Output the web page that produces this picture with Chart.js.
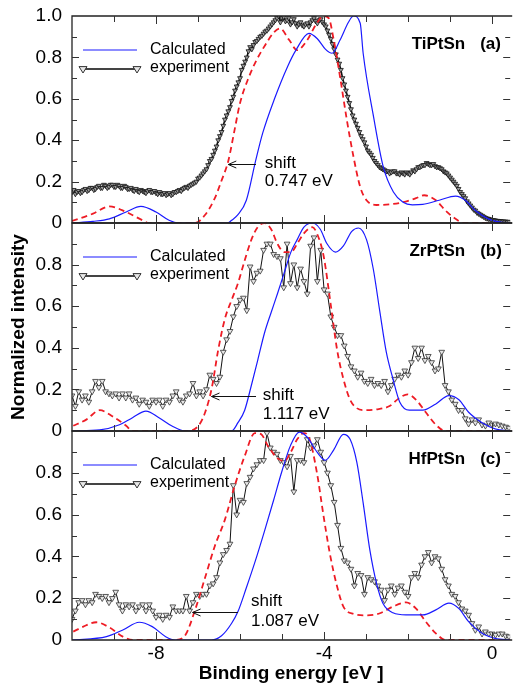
<!DOCTYPE html>
<html><head><meta charset="utf-8">
<script src="https://cdn.jsdelivr.net/npm/chart.js@4.4.1/dist/chart.umd.min.js"></script>
<style>
html,body{margin:0;padding:0;background:#fff;width:515px;height:689px;overflow:hidden}
canvas{position:absolute;left:0;top:0}
</style></head><body>
<canvas id="ca" width="515" height="689"></canvas>
<canvas id="cb" width="515" height="689"></canvas>
<canvas id="cc" width="515" height="689"></canvas>
<script>
const FONT = '"Liberation Sans", Arial, Helvetica, sans-serif';
const X_MIN = -10, X_MAX = 0.43;
const xTickVals = [-10,-9,-8,-7,-6,-5,-4,-3,-2,-1,0];
const xLabelVals = [-8,-4,0];
const yTickVals = [0,0.1,0.2,0.3,0.4,0.5,0.6,0.7,0.8,0.9,1.0];

// experiment grids (binding energy, eV)
const expStart = -10;
const expA_step = 0.04, expB_step = 0.08, expC_step = 0.08;

// ---- (a) TiPtSn ----
const blueA_E = [-10,-9.5,-9.11,-8.71,-8.36,-8.0,-7.69,-7.46,-6.3,-6.2,-6.05,-5.85,-5.63,-5.46,-5.18,-4.87,-4.67,-4.36,-4.16,-3.97,-3.81,-3.62,-3.42,-3.3,-3.14,-3.07,-2.82,-2.59,-2.35,-2.12,-1.9,-1.65,-1.26,-0.87,-0.64,-0.4,-0.09,0.23,0.45];
const blueA_I = [0,0.008,0.02,0.053,0.08,0.053,0.013,0,0,0.013,0.04,0.11,0.3,0.435,0.6,0.755,0.835,0.916,0.89,0.84,0.82,0.884,0.97,1.0,0.965,0.82,0.51,0.27,0.15,0.1,0.088,0.09,0.11,0.13,0.11,0.06,0.02,0.003,0];
const redA_E = [-10,-9.5,-9.11,-8.71,-8.32,-8.17,-7.07,-6.83,-6.6,-6.45,-6.28,-6.13,-6.0,-5.8,-5.6,-5.4,-5.2,-5.05,-4.83,-4.64,-4.4,-4.2,-4.01,-3.89,-3.77,-3.62,-3.46,-3.3,-3.14,-2.99,-2.75,-2.44,-2.13,-1.81,-1.62,-1.34,-1.11,-0.87,-0.67,0.45];
const redA_I = [0.01,0.045,0.08,0.053,0.013,0,0,0.04,0.12,0.2,0.3,0.45,0.58,0.7,0.79,0.86,0.92,0.94,0.884,0.835,0.884,0.956,1.0,0.99,0.884,0.706,0.5,0.32,0.174,0.11,0.087,0.09,0.1,0.12,0.134,0.11,0.06,0.02,0,0];
const expA = [
0.15,0.16,0.14,0.15,0.155,0.145,0.15,0.16,0.165,0.155,0.16,0.17,0.17,0.16,0.165,0.175,0.18,0.17,0.17,0.185,
0.18,0.17,0.175,0.185,0.185,0.175,0.175,0.185,0.18,0.17,0.17,0.18,0.175,0.165,0.165,0.17,0.16,0.155,0.165,0.155,
0.15,0.16,0.155,0.15,0.145,0.155,0.16,0.15,0.15,0.155,0.145,0.14,0.15,0.14,0.14,0.145,0.135,0.14,0.145,0.135,
0.14,0.15,0.15,0.155,0.16,0.155,0.165,0.17,0.175,0.17,0.18,0.185,0.19,0.195,0.2,0.215,0.22,0.23,0.24,0.25,
0.26,0.28,0.3,0.31,0.33,0.35,0.37,0.4,0.42,0.44,0.47,0.5,0.52,0.54,0.56,0.59,0.61,0.64,0.66,0.68,
0.7,0.74,0.76,0.78,0.8,0.83,0.85,0.84,0.86,0.875,0.88,0.89,0.9,0.905,0.915,0.925,0.93,0.94,0.95,0.96,
0.97,0.98,0.99,1.0,0.97,0.99,0.995,0.975,0.98,0.99,0.96,0.97,0.985,0.965,0.95,0.96,0.97,0.955,0.95,0.96,
0.965,0.95,0.97,0.98,0.99,0.975,0.965,0.98,0.985,0.97,0.96,0.95,0.93,0.91,0.89,0.865,0.84,0.815,0.79,0.77,
0.74,0.7,0.67,0.64,0.61,0.58,0.55,0.52,0.5,0.48,0.46,0.44,0.42,0.405,0.39,0.37,0.35,0.34,0.33,0.315,
0.3,0.29,0.28,0.27,0.265,0.26,0.255,0.25,0.25,0.24,0.245,0.25,0.25,0.24,0.24,0.235,0.245,0.24,0.235,0.245,
0.24,0.235,0.245,0.255,0.25,0.26,0.27,0.27,0.275,0.28,0.28,0.29,0.285,0.28,0.28,0.285,0.275,0.27,0.27,0.265,
0.26,0.25,0.245,0.24,0.23,0.22,0.21,0.2,0.19,0.18,0.165,0.15,0.14,0.13,0.12,0.105,0.095,0.085,0.075,0.065,
0.06,0.05,0.045,0.04,0.035,0.03,0.025,0.022,0.02,0.017,0.015,0.014,0.012,0.011,0.01,0.009,0.008,0.008,0.007,0.006,
0.006];

// ---- (b) ZrPtSn ----
const blueB_E = [-9.97,-9.34,-8.87,-8.56,-8.24,-7.93,-7.62,-7.3,-6.2,-6.05,-5.89,-5.73,-5.58,-5.42,-5.26,-5.11,-4.95,-4.79,-4.64,-4.48,-4.28,-4.09,-3.93,-3.73,-3.54,-3.34,-3.18,-2.99,-2.83,-2.67,-2.52,-2.36,-2.2,-1.97,-1.65,-1.34,-1.03,-0.79,-0.56,-0.24,0.07,0.45];
const blueB_I = [0,0.005,0.03,0.064,0.096,0.064,0.024,0,0,0.04,0.1,0.22,0.34,0.47,0.57,0.66,0.76,0.86,0.92,0.98,1.0,0.97,0.9,0.86,0.89,0.96,0.976,0.92,0.78,0.57,0.38,0.25,0.14,0.1,0.1,0.13,0.17,0.15,0.09,0.04,0.01,0];
const redB_E = [-9.97,-9.65,-9.34,-9.03,-8.71,-8.56,-7.3,-6.99,-6.83,-6.67,-6.52,-6.36,-6.2,-6.05,-5.89,-5.73,-5.58,-5.42,-5.26,-5.11,-4.95,-4.79,-4.64,-4.48,-4.28,-4.17,-4.01,-3.85,-3.69,-3.54,-3.38,-3.22,-3.07,-2.75,-2.44,-2.2,-2.01,-1.81,-1.58,-1.34,-1.11,0.45];
const redB_I = [0.025,0.056,0.1,0.07,0.025,0,0,0.025,0.09,0.21,0.39,0.54,0.63,0.71,0.82,0.92,0.98,1.0,0.97,0.9,0.86,0.86,0.9,0.95,0.98,0.95,0.84,0.62,0.39,0.25,0.15,0.11,0.1,0.104,0.12,0.16,0.176,0.15,0.09,0.03,0,0];
const expB = [0.17,0.12,0.19,0.15,0.17,0.14,0.19,0.24,0.21,0.24,0.19,0.18,0.17,0.18,0.16,0.18,0.16,0.18,0.15,0.16,
0.13,0.15,0.14,0.12,0.15,0.14,0.15,0.12,0.15,0.14,0.17,0.19,0.15,0.14,0.17,0.18,0.23,0.17,0.19,0.17,
0.2,0.27,0.25,0.23,0.26,0.38,0.44,0.48,0.55,0.6,0.63,0.64,0.58,0.79,0.72,0.76,0.77,0.87,0.9,0.9,
0.85,0.84,0.83,0.69,0.9,0.71,0.8,0.69,0.78,0.72,0.66,0.89,0.93,0.72,0.87,0.68,0.66,0.55,0.5,0.46,
0.46,0.41,0.36,0.31,0.29,0.26,0.28,0.24,0.23,0.25,0.22,0.23,0.22,0.24,0.19,0.22,0.25,0.27,0.26,0.29,
0.27,0.33,0.4,0.35,0.4,0.34,0.36,0.33,0.29,0.3,0.38,0.22,0.19,0.15,0.13,0.1,0.1,0.06,0.035,0.055,
0.04,0.055,0.03,0.025,0.04,0.03,0.035,0.03,0.025,0.02,0.015];

// ---- (c) HfPtSn ----
const blueC_E = [-10,-9.18,-8.79,-8.4,-8.09,-7.77,-7.54,-6.68,-6.44,-6.2,-6.05,-5.85,-5.65,-5.42,-5.2,-5.0,-4.8,-4.59,-4.4,-4.17,-3.97,-3.77,-3.54,-3.38,-3.22,-3.07,-2.91,-2.75,-2.6,-2.36,-2.05,-1.65,-1.34,-1.03,-0.79,-0.56,-0.24,0.07,0.45];
const blueC_I = [0,0.016,0.048,0.085,0.064,0.016,0,0,0.02,0.08,0.136,0.25,0.37,0.52,0.67,0.81,0.93,0.995,0.97,0.9,0.86,0.91,0.984,0.96,0.85,0.656,0.43,0.27,0.176,0.13,0.12,0.12,0.144,0.176,0.15,0.088,0.032,0.008,0];
const redC_E = [-9.97,-9.73,-9.42,-9.11,-8.79,-8.56,-7.54,-7.3,-7.07,-6.83,-6.6,-6.36,-6.13,-5.89,-5.65,-5.5,-5.34,-5.11,-4.95,-4.79,-4.64,-4.48,-4.36,-4.17,-4.01,-3.85,-3.69,-3.54,-3.3,-2.99,-2.67,-2.36,-2.05,-1.81,-1.58,-1.34,-1.11,0.45];
const redC_I = [0.04,0.064,0.085,0.06,0.016,0,0,0.024,0.144,0.3,0.45,0.576,0.736,0.88,0.99,0.985,0.93,0.87,0.856,0.9,0.96,0.99,0.97,0.8,0.59,0.4,0.256,0.16,0.125,0.118,0.128,0.16,0.18,0.15,0.088,0.032,0,0];
const expC = [0.1,0.14,0.18,0.19,0.17,0.19,0.18,0.22,0.21,0.2,0.21,0.18,0.2,0.23,0.17,0.14,0.17,0.16,0.17,0.14,
0.16,0.17,0.14,0.17,0.14,0.11,0.12,0.1,0.12,0.11,0.16,0.14,0.14,0.14,0.21,0.14,0.18,0.22,0.21,0.22,
0.22,0.26,0.27,0.3,0.37,0.41,0.43,0.46,0.74,0.6,0.67,0.66,0.75,0.78,0.82,0.84,0.86,0.86,0.99,0.92,
0.9,0.89,0.86,0.85,0.83,0.88,0.71,0.86,0.86,0.85,0.96,0.92,0.93,0.96,0.9,0.85,0.8,0.74,0.66,0.55,
0.44,0.38,0.37,0.34,0.26,0.32,0.31,0.22,0.3,0.29,0.28,0.26,0.24,0.19,0.24,0.26,0.22,0.25,0.26,0.23,
0.21,0.3,0.32,0.3,0.36,0.4,0.42,0.37,0.4,0.39,0.34,0.29,0.26,0.22,0.21,0.18,0.15,0.14,0.12,0.08,
0.048,0.064,0.03,0.04,0.03,0.03,0.024,0.03,0.03,0.02,0.016];

const panels = [
  { id:'ca', top:16, bottom:223, name:'TiPtSn', tag:'(a)', blueE:blueA_E, blueI:blueA_I, redE:redA_E, redI:redA_I, exp:expA, step:expA_step,
    expLine:1.6, expR:2.8, expFill:'#9a9a9a', expEdge:'#111',
    arrowHead:-6.28, arrowTail:-5.62, arrowV:0.285, textE:-5.41, shiftV:0.29, evV:0.2, ev:'0.747 eV', showX:false, yTitle:false, hideTop:false },
  { id:'cb', top:223, bottom:431, name:'ZrPtSn', tag:'(b)', blueE:blueB_E, blueI:blueB_I, redE:redB_E, redI:redB_I, exp:expB, step:expB_step,
    expLine:1, expR:3.3, expFill:'#e6e6e6', expEdge:'#333',
    arrowHead:-6.68, arrowTail:-5.62, arrowV:0.168, textE:-5.46, shiftV:0.17, evV:0.08, ev:'1.117 eV', showX:false, yTitle:true, hideTop:true },
  { id:'cc', top:431, bottom:640, name:'HfPtSn', tag:'(c)', blueE:blueC_E, blueI:blueC_I, redE:redC_E, redI:redC_I, exp:expC, step:expC_step,
    expLine:1, expR:3.3, expFill:'#e6e6e6', expEdge:'#333',
    arrowHead:-7.13, arrowTail:-6.05, arrowV:0.136, textE:-5.74, shiftV:0.184, evV:0.088, ev:'1.087 eV', showX:true, yTitle:false, hideTop:true }
];

function downTri(ctx, cx, cy, r) {
  ctx.beginPath();
  ctx.moveTo(cx - r, cy - r * 0.6);
  ctx.lineTo(cx + r, cy - r * 0.6);
  ctx.lineTo(cx, cy + r);
  ctx.closePath();
  ctx.fill(); ctx.stroke();
}

const decor = {
  id: 'decor',
  afterDatasetsDraw(chart, args, o) {
    const {ctx, chartArea: a, scales: {x, y}} = chart;
    ctx.save();
    ctx.strokeStyle = '#222'; ctx.lineWidth = 1.3;
    ctx.beginPath();
    ctx.moveTo(a.right + 2, a.top); ctx.lineTo(a.left, a.top);
    ctx.lineTo(a.left, a.bottom); ctx.lineTo(a.right + 2, a.bottom);
    ctx.stroke();
    ctx.lineWidth = 1; ctx.strokeStyle = '#333';
    ctx.beginPath();
    xTickVals.forEach(v => {
      if (v <= X_MIN) return;
      const px = Math.round(x.getPixelForValue(v)) + 0.5;
      const L = xLabelVals.includes(v) ? 8 : 6;
      ctx.moveTo(px, a.top); ctx.lineTo(px, a.top + L);
      ctx.moveTo(px, a.bottom); ctx.lineTo(px, a.bottom - L);
    });
    yTickVals.forEach((v, i) => {
      if (i === 0 || i === yTickVals.length - 1) return;
      const py = Math.round(y.getPixelForValue(v)) + 0.5;
      const L = i % 2 === 0 ? 7 : 5;
      ctx.moveTo(a.left, py); ctx.lineTo(a.left + L, py);
      ctx.moveTo(a.right, py); ctx.lineTo(a.right - L, py);
    });
    ctx.stroke();
    const L0 = a.left + 11, L1 = a.left + 65, TX = a.left + 78;
    const r1 = a.top + 34, r2 = a.top + 53;
    ctx.strokeStyle = '#1a1aff'; ctx.lineWidth = 1.2;
    ctx.beginPath(); ctx.moveTo(L0, r1); ctx.lineTo(L1, r1); ctx.stroke();
    ctx.strokeStyle = '#444'; ctx.lineWidth = 2;
    ctx.beginPath(); ctx.moveTo(L0, r2); ctx.lineTo(L1, r2); ctx.stroke();
    ctx.fillStyle = '#e6e6e6'; ctx.strokeStyle = '#333'; ctx.lineWidth = 1;
    downTri(ctx, L0, r2, 4); downTri(ctx, L1, r2, 4);
    ctx.fillStyle = '#000'; ctx.font = '16px ' + FONT;
    ctx.textAlign = 'left'; ctx.textBaseline = 'middle';
    ctx.fillText('Calculated', TX, r1);
    ctx.fillText('experiment', TX, r2 - 1);
    ctx.font = 'bold 17px ' + FONT;
    ctx.textAlign = 'right';
    ctx.fillText(o.name, a.right - 45, a.top + 28);
    ctx.textAlign = 'left';
    ctx.fillText(o.tag, a.right - 30, a.top + 28);
    const ax0 = x.getPixelForValue(o.arrowHead), ax1 = x.getPixelForValue(o.arrowTail);
    const ay = Math.round(y.getPixelForValue(o.arrowV)) + 0.5;
    ctx.strokeStyle = '#111'; ctx.lineWidth = 1;
    ctx.beginPath();
    ctx.moveTo(ax1, ay); ctx.lineTo(ax0, ay);
    ctx.moveTo(ax0 + 8, ay - 3.5); ctx.lineTo(ax0, ay); ctx.lineTo(ax0 + 8, ay + 3.5);
    ctx.stroke();
    ctx.font = '17px ' + FONT; ctx.fillStyle = '#000';
    const tx = x.getPixelForValue(o.textE);
    ctx.fillText('shift', tx, y.getPixelForValue(o.shiftV));
    ctx.fillText(o.ev, tx, y.getPixelForValue(o.evV));
    ctx.restore();
  }
};

panels.forEach(p => {
  const cfg = {
    type: 'line',
    data: { datasets: [
      { label: 'experiment', data: p.exp.map((v, i) => ({x: expStart + i * p.step, y: v})),
        borderColor: '#111', borderWidth: p.expLine, tension: 0,
        pointStyle: 'triangle', rotation: 180, pointRadius: p.expR,
        pointBackgroundColor: p.expFill, pointBorderColor: p.expEdge, pointBorderWidth: 0.8, order: 3 },
      { label: 'shifted', data: p.redE.map((e, i) => ({x: e, y: p.redI[i]})),
        borderColor: '#ee1c25', borderWidth: 1.8, borderDash: [6, 4], pointRadius: 0,
        cubicInterpolationMode: 'monotone', order: 2 },
      { label: 'Calculated', data: p.blueE.map((e, i) => ({x: e, y: p.blueI[i]})),
        borderColor: '#1a1aff', borderWidth: 1.2, pointRadius: 0,
        cubicInterpolationMode: 'monotone', order: 1 }
    ]},
    options: {
      responsive: false, animation: false, events: [],
      layout: { padding: { top: p.top, left: 0, right: 0, bottom: 0 } },
      plugins: { legend: { display: false }, tooltip: { enabled: false }, decor: p },
      scales: {
        x: {
          type: 'linear', min: X_MIN, max: X_MAX,
          afterBuildTicks: s => { s.ticks = xTickVals.map(v => ({value: v})); },
          afterFit: s => { s.height = 689 - p.bottom; s.paddingLeft = 0; s.paddingRight = 0; },
          grid: { display: false, drawTicks: false }, border: { display: false },
          ticks: { display: p.showX, padding: 4, autoSkip: false, maxRotation: 0, color: '#000',
            font: { family: FONT, size: 19, lineHeight: 1 },
            callback: v => xLabelVals.includes(v) ? String(v) : '' },
          title: { display: p.showX, text: 'Binding energy [eV ]', color: '#000',
            font: { family: FONT, size: 19, weight: 'bold', lineHeight: 1.2 }, padding: { top: 0, bottom: 4 } }
        },
        y: {
          type: 'linear', min: 0, max: 1,
          afterBuildTicks: s => { s.ticks = yTickVals.map(v => ({value: v})); },
          afterFit: s => { s.width = 72; s.paddingTop = 0; s.paddingBottom = 0; },
          grid: { display: false, drawTicks: false }, border: { display: false },
          ticks: { padding: 10, autoSkip: false, color: '#000', font: { family: FONT, size: 19 },
            callback: v => { const k = Math.round(v * 10); if (k % 2) return ''; if (k === 10 && p.hideTop) return ''; return k === 0 ? '0' : (k / 10).toFixed(1); } },
          title: { display: p.yTitle, text: 'Normalized intensity', color: '#000',
            font: { family: FONT, size: 19, weight: 'bold', lineHeight: 1.2 }, padding: { top: 7, bottom: 0 } }
        }
      }
    },
    plugins: [decor]
  };
  new Chart(document.getElementById(p.id), cfg);
});
</script>
</body></html>
